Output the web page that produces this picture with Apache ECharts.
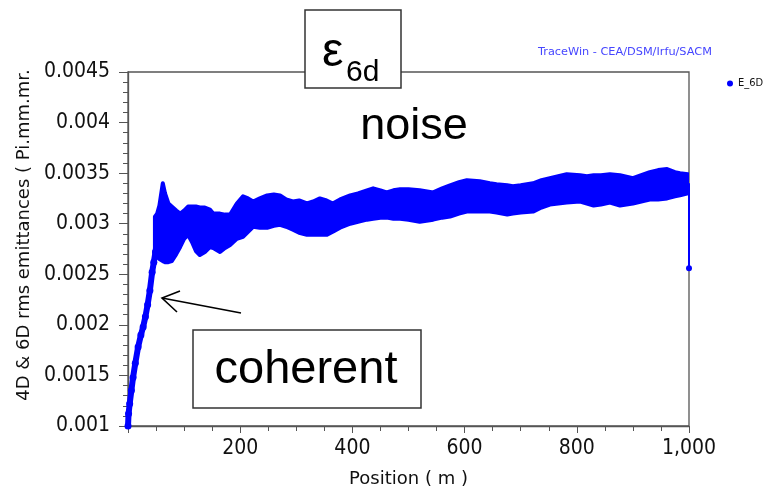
<!DOCTYPE html>
<html>
<head>
<meta charset="utf-8">
<script src="https://cdn.jsdelivr.net/npm/echarts@6/dist/echarts.min.js"></script>
<style>html,body{margin:0;padding:0;background:#fff}#c{width:767px;height:491px}</style>
</head>
<body>
<div id="c"></div>
<script>
// Initial coherent rise (position m, emittance)
var riseX = [0, 1, 3, 6, 9, 13, 18, 23, 27, 31, 35, 39, 43, 46, 49, 51];
var riseY = [0.00100, 0.00112, 0.00122, 0.00135, 0.00148, 0.00162, 0.00178, 0.00190, 0.00198, 0.00208, 0.00220, 0.00234, 0.00252, 0.00262, 0.00272, 0.00280];

// Noise band envelope (position m, upper / lower emittance)
var bandX = [48, 52, 56, 62, 66, 72, 78, 86, 93, 100, 107, 114, 121, 128, 137, 146, 152, 164, 173, 182, 194, 205, 214, 223, 235, 248, 260, 271, 282, 294, 305, 319, 330, 342, 354, 365, 378, 396, 410, 426, 437, 450, 461, 473, 485, 500, 520, 544, 560, 574, 590, 604, 627, 645, 657, 676, 686, 700, 722, 737, 752, 767, 782, 806, 818, 830, 843, 859, 877, 900, 915, 930, 945, 961, 975, 984, 998];
var bandUpper = [0.00307, 0.00310, 0.00318, 0.00340, 0.00330, 0.00320, 0.00317, 0.00313, 0.00310, 0.00313, 0.00317, 0.00317, 0.00317, 0.00316, 0.00316, 0.00314, 0.00310, 0.00310, 0.00309, 0.00309, 0.00320, 0.00327, 0.00325, 0.00322, 0.00325, 0.00328, 0.00329, 0.00328, 0.00324, 0.00322, 0.00323, 0.00320, 0.00322, 0.00325, 0.00323, 0.00320, 0.00324, 0.00328, 0.00330, 0.00333, 0.00335, 0.00333, 0.00331, 0.00333, 0.00334, 0.00334, 0.00333, 0.00331, 0.00335, 0.00338, 0.00341, 0.00343, 0.00342, 0.00340, 0.00339, 0.00338, 0.00337, 0.00338, 0.00340, 0.00343, 0.00345, 0.00347, 0.00349, 0.00348, 0.00347, 0.00348, 0.00348, 0.00349, 0.00348, 0.00345, 0.00348, 0.00351, 0.00353, 0.00354, 0.00351, 0.00350, 0.00349];
var bandLower = [0.00270, 0.00267, 0.00265, 0.00263, 0.00262, 0.00262, 0.00263, 0.00270, 0.00277, 0.00285, 0.00289, 0.00282, 0.00273, 0.00269, 0.00272, 0.00277, 0.00276, 0.00272, 0.00276, 0.00279, 0.00285, 0.00287, 0.00292, 0.00297, 0.00296, 0.00296, 0.00298, 0.00299, 0.00297, 0.00294, 0.00291, 0.00289, 0.00289, 0.00289, 0.00289, 0.00292, 0.00296, 0.00300, 0.00302, 0.00304, 0.00305, 0.00306, 0.00306, 0.00305, 0.00305, 0.00304, 0.00302, 0.00304, 0.00306, 0.00307, 0.00310, 0.00312, 0.00312, 0.00312, 0.00311, 0.00309, 0.00310, 0.00311, 0.00312, 0.00316, 0.00319, 0.00320, 0.00321, 0.00322, 0.00320, 0.00318, 0.00319, 0.00321, 0.00318, 0.00320, 0.00322, 0.00324, 0.00324, 0.00325, 0.00327, 0.00328, 0.00330];

// Final drop at end of linac
var tailX = [1000, 1000];
var tailY = [0.00340, 0.00256];

var BLUE = '#0000ff';
var chart = echarts.init(document.getElementById('c'), null, {renderer: 'canvas'});

var rise = riseX.map(function (x, i) { return [x, riseY[i]]; });
var tail = tailX.map(function (x, i) { return i === tailX.length - 1 ? {value: [x, tailY[i]], symbol: 'circle', symbolSize: 6} : {value: [x, tailY[i]], symbol: 'none'}; });

function renderBand(params, api) {
  var pts = [];
  for (var i = 0; i < bandX.length; i++) pts.push(api.coord([bandX[i], bandUpper[i]]));
  for (var j = bandX.length - 1; j >= 0; j--) pts.push(api.coord([bandX[j], bandLower[j]]));
  var cs = params.coordSys;
  return {
    type: 'polygon',
    shape: {points: pts},
    style: {fill: BLUE, stroke: BLUE, lineWidth: 4, lineJoin: 'round'},
    clipPath: {type: 'rect', shape: {x: cs.x, y: cs.y, width: cs.width, height: cs.height}}
  };
}

chart.setOption({
  animation: false,
  backgroundColor: '#fff',
  title: {
    text: 'TraceWin - CEA/DSM/Irfu/SACM',
    left: 533, top: 42,
    textStyle: {fontSize: 11.3, fontWeight: 'normal', color: '#4646ff', fontFamily: 'DejaVu Sans'}
  },
  legend: {
    left: 722, top: 73,
    itemWidth: 6, itemHeight: 6, itemGap: 4,
    textStyle: {fontSize: 11, color: '#111', fontFamily: 'DejaVu Sans Condensed'},
    data: [{name: 'E_6D', icon: 'circle', itemStyle: {color: BLUE}}]
  },
  grid: {left: 128, right: 78, top: 72, bottom: 65, outerBoundsMode: 'none', containLabel: false,
    show: true, borderColor: '#555', borderWidth: 1.3, backgroundColor: 'transparent'},
  xAxis: {
    type: 'value', min: 0, max: 1000, interval: 200,
    name: 'Position ( m )', nameLocation: 'middle', nameGap: 44,
    nameTextStyle: {fontSize: 18, color: '#111', fontFamily: 'DejaVu Sans'},
    axisLine: {lineStyle: {color: '#555', width: 1.3}},
    axisTick: {length: 7, lineStyle: {color: '#555'}},
    minorTick: {show: true, splitNumber: 4, length: 5, lineStyle: {color: '#555'}},
    splitLine: {show: false},
    axisLabel: {fontSize: 21, color: '#111', margin: 12, fontFamily: 'DejaVu Sans Condensed',
      formatter: function (v) { return v === 0 ? '' : v.toLocaleString('en-US'); }}
  },
  yAxis: {
    type: 'value', min: 0.001, max: 0.0045, interval: 0.0005,
    name: '4D & 6D rms emittances ( Pi.mm.mr.', nameLocation: 'middle', nameGap: 86,
    nameTextStyle: {fontSize: 18, color: '#111', fontFamily: 'DejaVu Sans', padding: [0, 0, 0, 28]},
    axisLine: {show: true, lineStyle: {color: '#555', width: 1.3}},
    axisTick: {show: true, length: 9, lineStyle: {color: '#555'}},
    minorTick: {show: true, splitNumber: 5, length: 5, lineStyle: {color: '#555'}},
    splitLine: {show: false},
    axisLabel: {fontSize: 21, color: '#111', margin: 18, fontFamily: 'DejaVu Sans Condensed',
      formatter: function (v) { return String(Number(v.toFixed(4))); }}
  },
  series: [
    {name: 'E_6D', type: 'custom', renderItem: renderBand, data: [[bandX[0], bandUpper[0]]], itemStyle: {color: BLUE}, z: 2},
    {name: 'E_6D', type: 'line', data: rise, showSymbol: true, symbol: 'circle', symbolSize: 7,
      lineStyle: {color: BLUE, width: 6, cap: 'round', join: 'round'}, itemStyle: {color: BLUE}, z: 3},
    {name: 'E_6D', type: 'line', data: tail, clip: false,
      lineStyle: {color: BLUE, width: 2}, itemStyle: {color: BLUE}, z: 3}
  ],
  graphic: [
    {type: 'rect', shape: {x: 305, y: 10, width: 96, height: 78}, style: {fill: '#fff', stroke: '#333', lineWidth: 1.5}, z: 100},
    {type: 'text', x: 322, y: 53, style: {text: 'ε', fontSize: 48, fontFamily: 'Liberation Sans', fill: '#000', verticalAlign: 'middle'}, z: 101},
    {type: 'text', x: 346, y: 73, style: {text: '6d', fontSize: 30, fontFamily: 'Liberation Sans', fill: '#000', verticalAlign: 'middle'}, z: 101},
    {type: 'text', x: 414, y: 127, style: {text: 'noise', fontSize: 45, fontFamily: 'Liberation Sans', fill: '#000', align: 'center', verticalAlign: 'middle'}, z: 101},
    {type: 'rect', shape: {x: 193, y: 330, width: 228, height: 78}, style: {fill: '#fff', stroke: '#333', lineWidth: 1.5}, z: 100},
    {type: 'text', x: 306, y: 370, style: {text: 'coherent', fontSize: 47, fontFamily: 'Liberation Sans', fill: '#000', align: 'center', verticalAlign: 'middle'}, z: 101},
    {type: 'line', shape: {x1: 241, y1: 313, x2: 162, y2: 298}, style: {stroke: '#000', lineWidth: 1.6}, z: 101},
    {type: 'polyline', shape: {points: [[180, 291], [162, 298], [177, 312]]}, style: {stroke: '#000', lineWidth: 1.6, fill: null}, z: 101}
  ]
});
</script>
</body>
</html>
